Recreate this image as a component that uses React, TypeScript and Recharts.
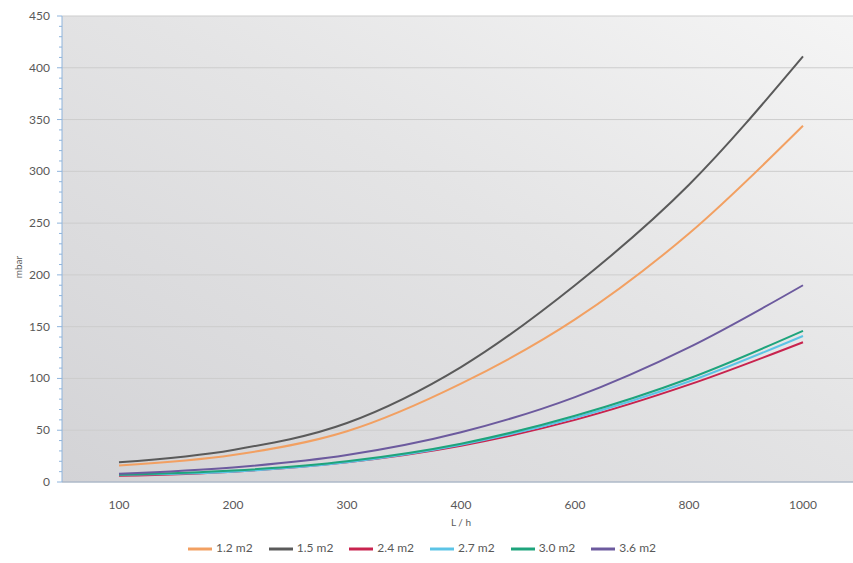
import { LineChart, Line, XAxis, YAxis, CartesianGrid, Legend } from "recharts";

// flow rates (categories on the x axis)
const flows = ["100", "200", "300", "400", "600", "800", "1000"];

// pressure drop in mbar per membrane area
const area12 = [16, 26, 49, 95, 157, 240, 344];
const area15 = [19, 31, 57, 111, 190, 287, 411];
const area24 = [6, 10, 19, 35, 60, 94, 135];
const area27 = [7, 10, 19, 36, 62, 97, 141];
const area30 = [7, 11, 20, 37, 64, 100, 146];
const area36 = [8, 14, 26, 48, 82, 130, 190];

const yTicks = [0, 50, 100, 150, 200, 250, 300, 350, 400, 450];

const series = [
  { key: "a12", name: "1.2 m2", values: area12, color: "#f2a062" },
  { key: "a15", name: "1.5 m2", values: area15, color: "#5a5a5a" },
  { key: "a24", name: "2.4 m2", values: area24, color: "#c8234e" },
  { key: "a27", name: "2.7 m2", values: area27, color: "#5cc4e6" },
  { key: "a30", name: "3.0 m2", values: area30, color: "#1ea47c" },
  { key: "a36", name: "3.6 m2", values: area36, color: "#6c5a9e" },
];

const data = flows.map((flow, i) => {
  const row: Record<string, string | number> = { flow };
  series.forEach((s) => {
    row[s.key] = s.values[i];
  });
  return row;
});

const font = "Lato, 'Open Sans', sans-serif";
const CHART_H = 563;
const TOP = 16;
const PLOT_BOTTOM = 482;
const AXIS_X = 62;
const minorStep = (PLOT_BOTTOM - TOP) / 45; // one minor tick every 10 mbar

const YLabel = (props: any) => {
  const vb = props.viewBox || {};
  const cy = (vb.y || 0) + (vb.height || 0) / 2 + 18;
  return (
    <text
      x={18}
      y={cy}
      transform={`rotate(-90 18 ${cy})`}
      textAnchor="middle"
      dominantBaseline="central"
      fontSize={10}
      fill="#595959"
      fontFamily={font}
    >
      mbar
    </text>
  );
};

// major label plus the four minor ticks above it
const YTick = (props: any) => {
  const { x, y, payload } = props;
  const minors = payload.value < 450 ? [1, 2, 3, 4] : [];
  return (
    <g>
      <text
        x={x}
        y={y}
        dy={4}
        textAnchor="end"
        fontSize={12}
        fill="#595959"
        fontFamily={font}
      >
        {payload.value}
      </text>
      {minors.map((k) => (
        <line
          key={k}
          x1={AXIS_X - 3}
          x2={AXIS_X}
          y1={y - k * minorStep}
          y2={y - k * minorStep}
          stroke="#8fb4dc"
        />
      ))}
    </g>
  );
};

const App = () => {
  return (
    <div
      style={{
        position: "absolute",
        left: 0,
        top: 0,
        width: 853,
        height: CHART_H,
        overflow: "hidden",
        background: "#fff",
        fontFamily: font,
      }}
    >
      <LineChart
        width={860}
        height={CHART_H}
        data={data}
        margin={{ top: TOP, right: 0, left: 0, bottom: 2 }}
      >
        <defs>
          <linearGradient id="plotBg" x1="0" y1="1" x2="1" y2="0">
            <stop offset="0%" stopColor="#d3d3d6" />
            <stop offset="55%" stopColor="#e4e4e5" />
            <stop offset="100%" stopColor="#f5f5f5" />
          </linearGradient>
        </defs>
        <CartesianGrid
          vertical={false}
          stroke="#cdcdcd"
          fill="url(#plotBg)"
          fillOpacity={1}
        />
        <XAxis
          dataKey="flow"
          type="category"
          interval={0}
          padding={{ left: 57, right: 57 }}
          tickLine={false}
          axisLine={{ stroke: "#9eafc6" }}
          tick={{ fill: "#595959", fontSize: 12, fontFamily: font }}
          tickMargin={12}
          height={55}
          label={{
            value: "L / h",
            position: "insideBottom",
            offset: 11,
            fill: "#595959",
            fontSize: 10,
            fontFamily: font,
          }}
        />
        <YAxis
          orientation="left"
          width={AXIS_X}
          type="number"
          domain={[0, 450]}
          ticks={yTicks}
          interval={0}
          tickSize={5}
          tickMargin={7}
          axisLine={{ stroke: "#8fb4dc" }}
          tickLine={{ stroke: "#8fb4dc" }}
          tick={YTick}
          label={{ content: YLabel }}
        />
        <Legend
          verticalAlign="bottom"
          align="center"
          iconType="plainline"
          iconSize={24}
          wrapperStyle={{ fontSize: 12, fontFamily: font, color: "#595959" }}
          formatter={(value: string) => (
            <span style={{ color: "#595959", paddingRight: 6 }}>{value}</span>
          )}
        />
        {series.map((s) => (
          <Line
            key={s.key}
            type="monotone"
            dataKey={s.key}
            name={s.name}
            stroke={s.color}
            strokeWidth={2}
            dot={false}
            activeDot={false}
            isAnimationActive={false}
          />
        ))}
      </LineChart>
    </div>
  );
};

export default App;
